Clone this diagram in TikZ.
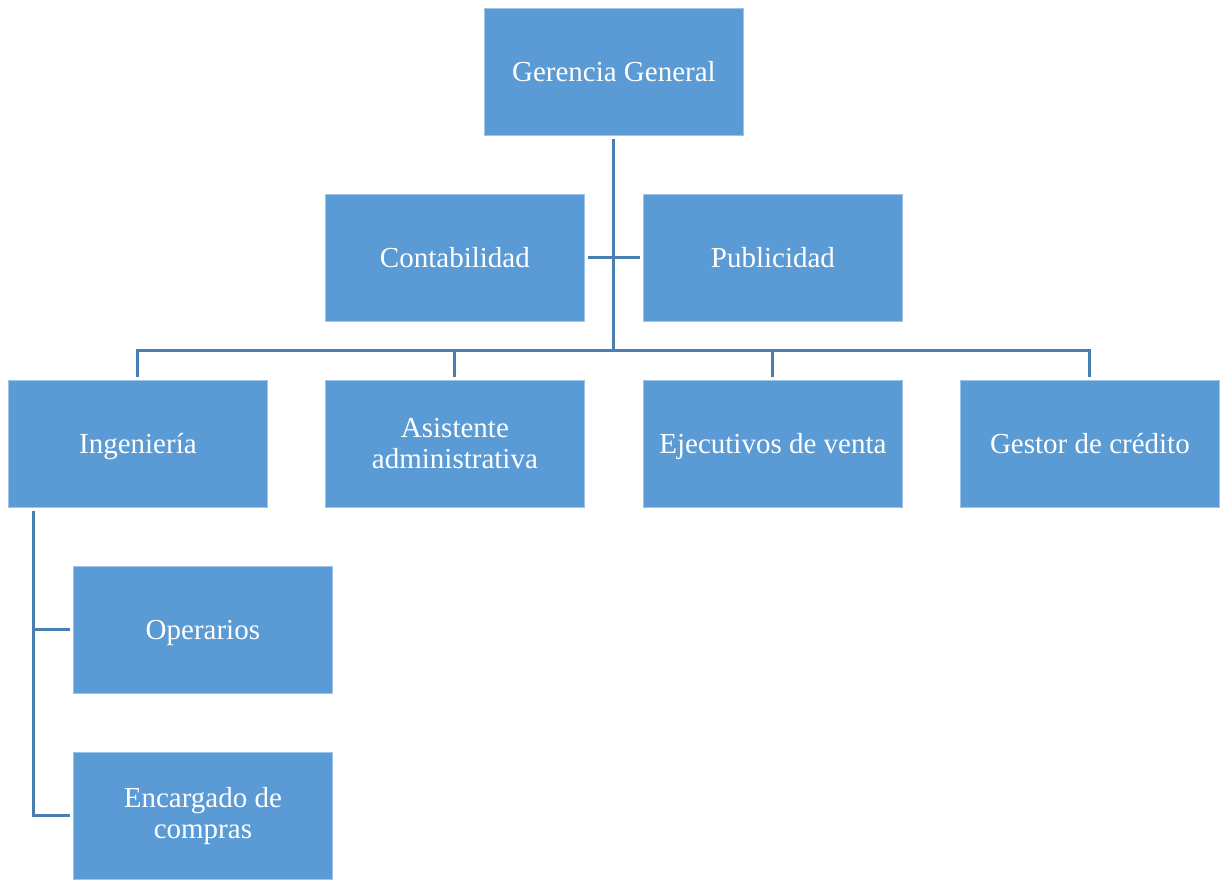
\documentclass[tikz,border=0pt]{standalone}
\usepackage{fontspec}
\setmainfont{Liberation Serif}
\definecolor{boxblue}{HTML}{5B9BD5}
\definecolor{lineblue}{HTML}{4A7DB0}
\begin{document}
\begin{tikzpicture}[x=1pt,y=-1pt,
  box/.style={fill=boxblue,draw=boxblue!60!white,line width=0.8pt,minimum width=259pt,minimum height=127pt,
    inner sep=0pt,text=white,align=center,font=\fontsize{29}{31}\selectfont,anchor=north west},
  oneline/.style={box,text height=23pt,text depth=4pt},
  conn/.style={draw=lineblue,line width=3pt}]
\useasboundingbox (0,0) rectangle (1221,879);
\node[oneline] (gg) at (484,8) {Gerencia General};
\node[oneline] (cont) at (325,194) {Contabilidad};
\node[oneline] (pub) at (643,194) {Publicidad};
\node[oneline] (ing) at (8,380) {Ingeniería};
\node[box] (asis) at (325,380) {Asistente\\administrativa};
\node[oneline] (ejec) at (643,380) {Ejecutivos de venta};
\node[oneline] (gest) at (960,380) {Gestor de crédito};
\node[oneline] (oper) at (73,566) {Operarios};
\node[box] (enc) at (73,752) {Encargado de\\compras};
\coordinate (bus) at (gg.south |- 0,350);
\draw[conn] ([yshift=-3pt]gg.south) -- (bus);
\draw[conn] ([xshift=3pt]cont.east) -- ([xshift=-3pt]pub.west);
\draw[conn] ([yshift=3pt]ing.north) |- (bus) -| ([yshift=3pt]gest.north);
\draw[conn] ([yshift=3pt]asis.north) -- (asis.north |- bus);
\draw[conn] ([yshift=3pt]ejec.north) -- (ejec.north |- bus);
\coordinate (ingdown) at (33,511);
\draw[conn] (ingdown) |- ([xshift=-3pt]enc.west);
\draw[conn] (ingdown |- oper.west) -- ([xshift=-3pt]oper.west);
\end{tikzpicture}
\end{document}
